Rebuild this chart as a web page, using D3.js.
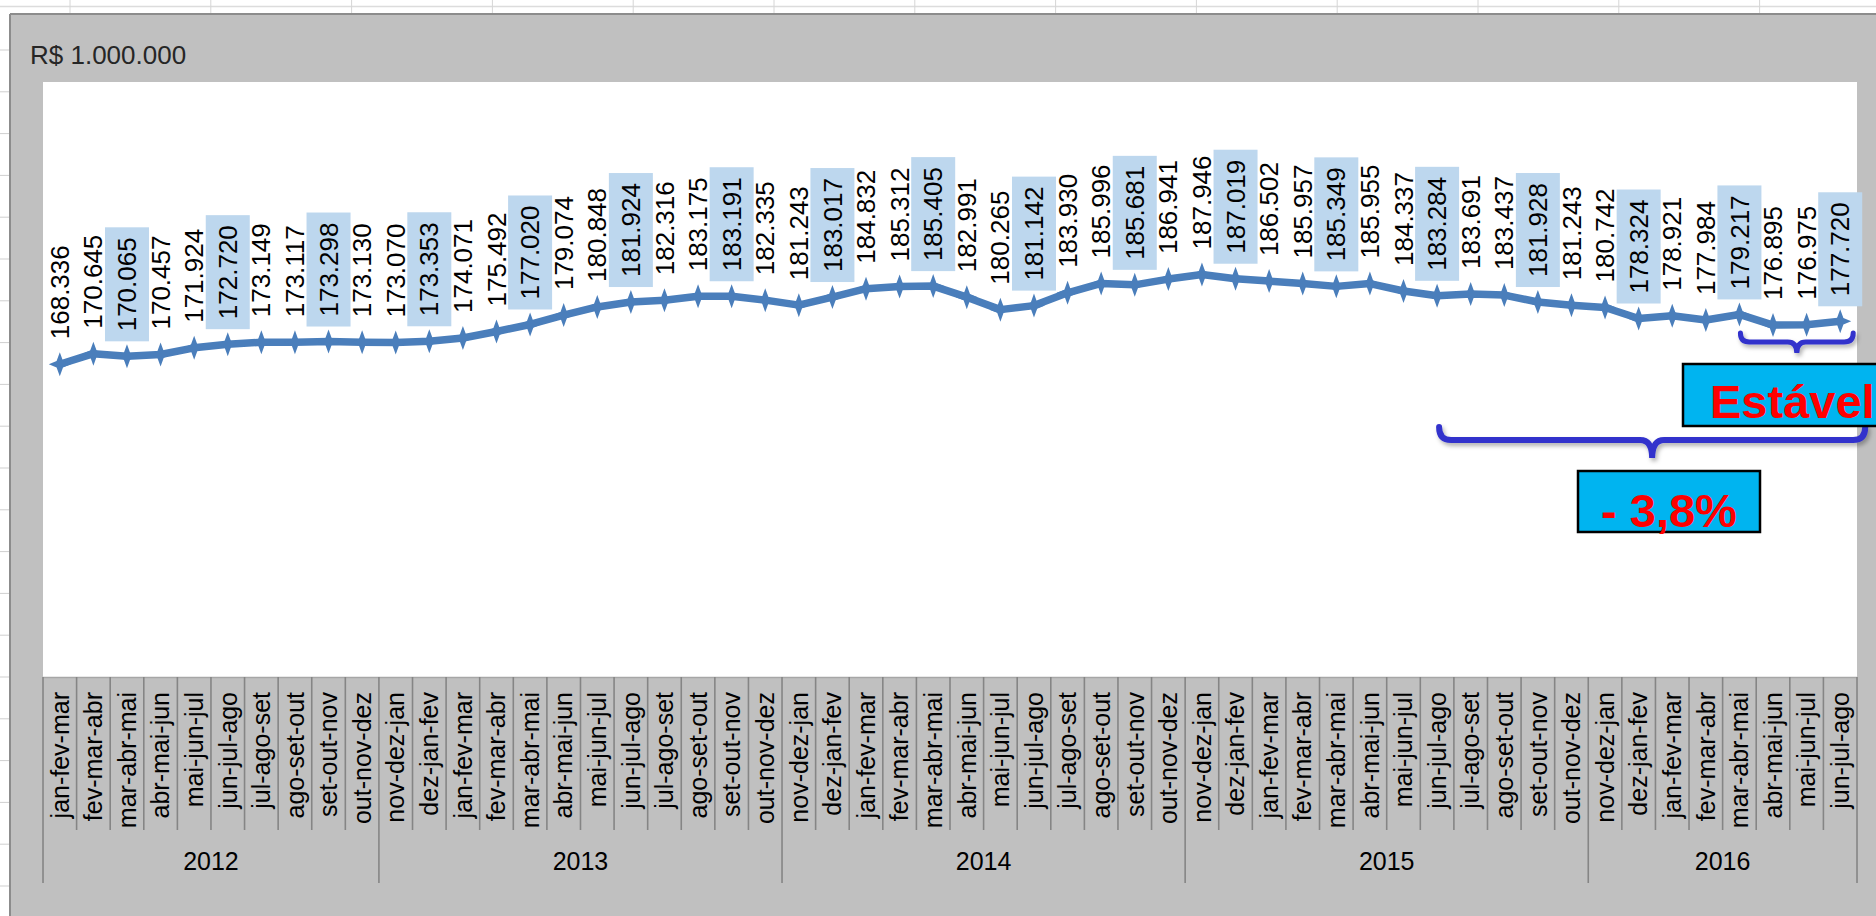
<!DOCTYPE html>
<html>
<head>
<meta charset="utf-8">
<script src="https://cdn.jsdelivr.net/npm/d3@7"></script>
<style>
	html, body { margin: 0; padding: 0; background: #ffffff; }
	svg { display: block; font-family: "Liberation Sans", Arial, sans-serif; }
</style>
</head>
<body>
<svg id="chart" width="1876" height="916"></svg>
<script>

	// ---- data (values in R$ 1.000, shown as R$ 1.000.000 with "." separators)

	var unit_label = "R$ 1.000.000";

	var years = ["2012", "2013", "2014", "2015", "2016"];
	var year_sizes = [10, 12, 12, 12, 8];

	var periods = [
		"jan-fev-mar", "fev-mar-abr", "mar-abr-mai", "abr-mai-jun", "mai-jun-jul", "jun-jul-ago", "jul-ago-set", "ago-set-out", "set-out-nov", "out-nov-dez",
		"nov-dez-jan", "dez-jan-fev", "jan-fev-mar", "fev-mar-abr", "mar-abr-mai", "abr-mai-jun", "mai-jun-jul", "jun-jul-ago", "jul-ago-set", "ago-set-out", "set-out-nov", "out-nov-dez",
		"nov-dez-jan", "dez-jan-fev", "jan-fev-mar", "fev-mar-abr", "mar-abr-mai", "abr-mai-jun", "mai-jun-jul", "jun-jul-ago", "jul-ago-set", "ago-set-out", "set-out-nov", "out-nov-dez",
		"nov-dez-jan", "dez-jan-fev", "jan-fev-mar", "fev-mar-abr", "mar-abr-mai", "abr-mai-jun", "mai-jun-jul", "jun-jul-ago", "jul-ago-set", "ago-set-out", "set-out-nov", "out-nov-dez",
		"nov-dez-jan", "dez-jan-fev", "jan-fev-mar", "fev-mar-abr", "mar-abr-mai", "abr-mai-jun", "mai-jun-jul", "jun-jul-ago"
	];

	var values = [
		168336, 170645, 170065, 170457, 171924, 172720, 173149, 173117, 173298, 173130,
		173070, 173353, 174071, 175492, 177020, 179074, 180848, 181924, 182316, 183175, 183191, 182335,
		181243, 183017, 184832, 185312, 185405, 182991, 180265, 181142, 183930, 185996, 185681, 186941,
		187946, 187019, 186502, 185957, 185349, 185955, 184337, 183284, 183691, 183437, 181928, 181243,
		180742, 178324, 178921, 177984, 179217, 176895, 176975, 177720
	];

	// every third label sits on a light blue box
	var boxed_labels = [2, 5, 8, 11, 14, 17, 20, 23, 26, 29, 32, 35, 38, 41, 44, 47, 50, 53];

	var y_domain = [100000, 230000];

	var note_stable = "Estável";
	var note_drop = "- 3,8%";

	var chart = (function(){

		var svg = d3.select("#chart");
		var W = 1876, H = 916;

		var plot = { left: 43, right: 1857, top: 82, bottom: 677 };

		var br = d3.formatLocale({ decimal: ",", thousands: ".", grouping: [3], currency: ["R$ ", ""] });
		var fmt = br.format(",d");

		var x = d3.scaleBand().domain(d3.range(values.length)).range([plot.left, plot.right]).paddingInner(0).paddingOuter(0);
		var y = d3.scaleLinear().domain(y_domain).range([plot.bottom, plot.top]);

		function cx(i){ return x(i) + x.bandwidth() / 2; }

		function brace_path(x1, x2, y_top, y_h, y_tip, r){
			var xm = (x1 + x2) / 2;
			return "M" + x1 + "," + y_top +
				"Q" + x1 + "," + y_h + " " + (x1 + r) + "," + y_h +
				"L" + (xm - r) + "," + y_h +
				"Q" + xm + "," + y_h + " " + xm + "," + y_tip +
				"Q" + xm + "," + y_h + " " + (xm + r) + "," + y_h +
				"L" + (x2 - r) + "," + y_h +
				"Q" + x2 + "," + y_h + " " + x2 + "," + y_top;
		}

		function draw_sheet(){
			// spreadsheet behind the chart
			svg.append("rect").attr("width", W).attr("height", H).attr("fill", "#ffffff");
			svg.append("line").attr("x1", 0).attr("x2", W).attr("y1", 6.5).attr("y2", 6.5)
				.attr("stroke", "#dcdcdc").attr("stroke-width", 1.5);
			for(var cxl = 70; cxl < W; cxl += 140.8){
				svg.append("line").attr("x1", cxl).attr("x2", cxl).attr("y1", 0).attr("y2", 14)
					.attr("stroke", "#d6d6d6").attr("stroke-width", 1);
			}
			for(var ry = 50; ry < H; ry += 41.8){
				svg.append("line").attr("x1", 0).attr("x2", 10).attr("y1", ry).attr("y2", ry)
					.attr("stroke", "#cfcfcf").attr("stroke-width", 1);
			}

			// chart area
			svg.append("rect").attr("x", 10).attr("y", 14).attr("width", W - 10).attr("height", H - 14)
				.attr("fill", "#c0c0c0");
			svg.append("line").attr("x1", 10).attr("x2", W).attr("y1", 14).attr("y2", 14)
				.attr("stroke", "#8c8c8c").attr("stroke-width", 2);
			svg.append("line").attr("x1", 10).attr("x2", 10).attr("y1", 14).attr("y2", H)
				.attr("stroke", "#8c8c8c").attr("stroke-width", 2);

			svg.append("text").attr("x", 30).attr("y", 64)
				.attr("font-size", 26).attr("fill", "#262626")
				.text(unit_label);

			// plot area
			svg.append("rect").attr("x", plot.left).attr("y", plot.top)
				.attr("width", plot.right - plot.left).attr("height", plot.bottom - plot.top)
				.attr("fill", "#ffffff");
		}

		function draw_axis(){
			var g = svg.append("g").attr("class", "axis");
			var step = x.step();

			g.append("line").attr("x1", plot.left).attr("x2", plot.right)
				.attr("y1", plot.bottom + 0.5).attr("y2", plot.bottom + 0.5)
				.attr("stroke", "#a6a6a6").attr("stroke-width", 1.5);

			// year boundaries
			var starts = [0];
			year_sizes.forEach(function(n, k){ starts.push(starts[k] + n); });

			var edges = d3.range(values.length + 1);
			g.selectAll("line.sep").data(edges).enter().append("line")
				.attr("class", "sep")
				.attr("x1", function(k){ return plot.left + k * step; })
				.attr("x2", function(k){ return plot.left + k * step; })
				.attr("y1", plot.bottom)
				.attr("y2", function(k){ return starts.indexOf(k) !== -1 ? 883 : 830; })
				.attr("stroke", "#858585").attr("stroke-width", 1.6);

			g.selectAll("text.period").data(periods).enter().append("text")
				.attr("class", "period")
				.attr("transform", function(d, i){ return "translate(" + cx(i) + ",692) rotate(-90)"; })
				.attr("dy", "0.35em")
				.attr("text-anchor", "end")
				.attr("font-size", 25).attr("fill", "#000000")
				.text(function(d){ return d; });

			g.selectAll("text.year").data(years).enter().append("text")
				.attr("class", "year")
				.attr("x", function(d, k){ return plot.left + (starts[k] + year_sizes[k] / 2) * step; })
				.attr("y", 870)
				.attr("text-anchor", "middle")
				.attr("font-size", 25).attr("fill", "#000000")
				.text(function(d){ return d; });
		}

		function draw_series(){
			var line = d3.line().x(function(d, i){ return cx(i); }).y(function(d){ return y(d); });

			svg.append("path").datum(values)
				.attr("d", line)
				.attr("fill", "none")
				.attr("stroke", "#4a7ebb").attr("stroke-width", 7.5)
				.attr("stroke-linejoin", "round").attr("stroke-linecap", "round");

			// four pointed star markers
			var star = "M0,-12L3.2,-3.2L11,0L3.2,3.2L0,12L-3.2,3.2L-11,0L-3.2,-3.2Z";
			svg.append("g").selectAll("path").data(values).enter().append("path")
				.attr("d", star)
				.attr("transform", function(d, i){ return "translate(" + cx(i) + "," + y(d) + ")"; })
				.attr("fill", "#4a7ebb");

			// data labels
			var lab = svg.append("g").attr("class", "labels");
			var gap = 25, pad = 10, text_len = 94;

			lab.selectAll("rect").data(boxed_labels).enter().append("rect")
				.attr("x", function(i){ return cx(i) - 22; })
				.attr("y", function(i){ return y(values[i]) - gap - text_len - pad; })
				.attr("width", 44)
				.attr("height", text_len + 2 * pad)
				.attr("fill", "#bdd7ee");

			lab.selectAll("text").data(values).enter().append("text")
				.attr("transform", function(d, i){ return "translate(" + cx(i) + "," + (y(d) - gap) + ") rotate(-90)"; })
				.attr("dy", "0.35em")
				.attr("font-size", 26).attr("fill", "#000000")
				.text(function(d){ return fmt(d); });
		}

		function draw_notes(){
			var defs = svg.append("defs");
			var f = defs.append("filter").attr("id", "shadow").attr("x", "-10%").attr("y", "-50%").attr("width", "120%").attr("height", "200%");
			f.append("feDropShadow").attr("dx", 2).attr("dy", 3).attr("stdDeviation", 2)
				.attr("flood-color", "#000000").attr("flood-opacity", 0.3);

			var g = svg.append("g").attr("class", "notes");
			var last = values.length - 1;

			// small brace under the last three points
			g.append("path")
				.attr("d", brace_path(cx(last - 3) + 1, cx(last) + 13, 333, 342, 353, 9))
				.attr("fill", "none").attr("stroke", "#3333cc").attr("stroke-width", 5)
				.attr("stroke-linecap", "round").attr("filter", "url(#shadow)");

			// large brace from jun-jul-ago 2015 to the end
			g.append("path")
				.attr("d", brace_path(cx(last - 12) + 2, cx(last) + 25, 427, 440, 458, 12))
				.attr("fill", "none").attr("stroke", "#3333cc").attr("stroke-width", 6)
				.attr("stroke-linecap", "round").attr("filter", "url(#shadow)");

			g.append("rect").attr("x", 1683).attr("y", 364).attr("width", 210).attr("height", 62)
				.attr("fill", "#00b4f0").attr("stroke", "#000000").attr("stroke-width", 2.5);
			g.append("text").attr("x", 1710).attr("y", 418)
				.attr("font-size", 47).attr("font-weight", "bold").attr("fill", "#ff0000")
				.text(note_stable);

			g.append("rect").attr("x", 1578).attr("y", 471).attr("width", 182).attr("height", 61)
				.attr("fill", "#00b4f0").attr("stroke", "#000000").attr("stroke-width", 2.5);
			g.append("text").attr("x", 1669).attr("y", 527)
				.attr("text-anchor", "middle")
				.attr("font-size", 47).attr("font-weight", "bold").attr("fill", "#ff0000")
				.text(note_drop);
		}

		draw_sheet();
		draw_axis();
		draw_series();
		draw_notes();

		return null;
	})();

</script>
</body>
</html>
